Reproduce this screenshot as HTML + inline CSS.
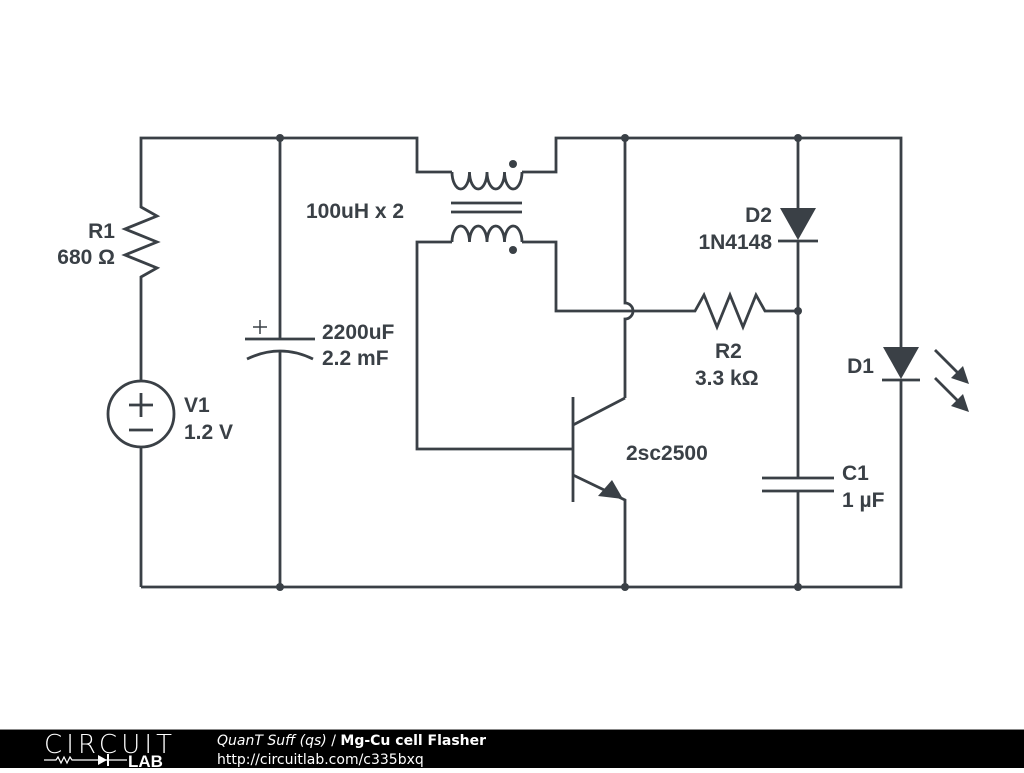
<!DOCTYPE html>
<html><head><meta charset="utf-8"><style>
body{margin:0;width:1024px;height:768px;background:#fff;overflow:hidden;font-family:"Liberation Sans","DejaVu Sans",sans-serif}
</style></head><body>
<svg width="1024" height="768" viewBox="0 0 1024 768" xmlns="http://www.w3.org/2000/svg">
<g fill="none" stroke="#3a4046" stroke-width="2.8" stroke-linejoin="miter">
<path d="M141 200 V138 H417 V172 H452"/>
<path d="M522 172 H556 V138 H901 V347"/>
<path d="M141 587 H901 V380"/>
<path d="M141 200 L141 207 L157 216 L125 229 L157 242 L125 255 L157 268 L141 277 V380"/>
<circle cx="141" cy="414" r="33"/>
<path d="M141 447 V587"/>
<path d="M129 405 H153 M141 393 V417 M129 430 H153"/>
<path d="M280 138 V339 M245 339 H315"/>
<path d="M247 359 Q280 343 313 359"/>
<path d="M280 352 V587"/>
<path d="M253 327 H267 M260 320 V334" stroke-width="1.5"/>
<path d="M452 172 a8.75 17 0 0 0 17.5 0 a8.75 17 0 0 0 17.5 0 a8.75 17 0 0 0 17.5 0 a8.75 17 0 0 0 17.5 0"/>
<path d="M452 242 a8.75 16 0 0 1 17.5 0 a8.75 16 0 0 1 17.5 0 a8.75 16 0 0 1 17.5 0 a8.75 16 0 0 1 17.5 0"/>
<path d="M451 203 H522 M451 212 H522"/>
<path d="M452 242 H417 V449 H572"/>
<path d="M522 242 H556 V311 H688"/>
<path d="M625 138 V303 A8 8 0 0 1 625 319 V398"/>
<path d="M573 397 V502"/>
<path d="M573 425 L625 398"/>
<path d="M573 475 L625 500 V587"/>
<path d="M688 311 L695 311 L704 295 L717 327 L730 295 L743 327 L756 295 L765 311 H798"/>
<path d="M798 138 V208 M798 240 V478 M762 478 H834 M762 491 H834 M798 491 V587"/>
<path d="M778 241 H818"/>
<path d="M882 380 H920"/>
<path d="M935 350 L962 377 M935 378 L962 405"/>
</g>
<g fill="#3a4046">
<circle cx="280" cy="138" r="4"/><circle cx="625" cy="138" r="4"/><circle cx="798" cy="138" r="4"/>
<circle cx="798" cy="311" r="4"/>
<circle cx="280" cy="587" r="4"/><circle cx="625" cy="587" r="4"/><circle cx="798" cy="587" r="4"/>
<circle cx="513" cy="164" r="4"/><circle cx="513" cy="250" r="4"/>
<polygon points="780,208 816,208 798,240"/>
<polygon points="883,347 919,347 901,379"/>
<polygon points="598,496 612,480 623,499"/>
<polygon points="969,384 951,378 963,366"/>
<polygon points="969,412 951,406 963,394"/>
</g>
<g fill="#3a4046" font-size="21" font-weight="bold" font-family="Liberation Sans, sans-serif">
<text x="115" y="238" text-anchor="end">R1</text>
<text x="115" y="264" text-anchor="end">680 Ω</text>
<text x="184" y="412">V1</text>
<text x="184" y="439">1.2 V</text>
<text x="322" y="339">2200uF</text>
<text x="322" y="365">2.2 mF</text>
<text x="306" y="218">100uH x 2</text>
<text x="772" y="222" text-anchor="end">D2</text>
<text x="772" y="249" text-anchor="end">1N4148</text>
<text x="715" y="358">R2</text>
<text x="695" y="385">3.3 kΩ</text>
<text x="874" y="373" text-anchor="end">D1</text>
<text x="626" y="460">2sc2500</text>
<text x="842" y="480">C1</text>
<text x="842" y="507">1 µF</text>
</g>
<rect x="0" y="729" width="1024" height="39" fill="#000"/>
<rect x="0" y="729" width="1024" height="1" fill="#888"/>
<text x="44" y="753" fill="#fff" font-size="26" font-family="DejaVu Sans, sans-serif" font-weight="200" letter-spacing="0" textLength="128">CIRCUIT</text>
<text x="128" y="767" fill="#fff" font-size="17" font-weight="bold" font-family="Liberation Sans, sans-serif">LAB</text>
<path d="M44 760 H56 l2 -3 l3 6 l3 -6 l3 6 l3 -6 l2 3 H127" stroke="#fff" stroke-width="1.2" fill="none"/>
<polygon points="98,755 98,765 107,760" fill="#fff"/><rect x="107" y="754" width="2" height="12" fill="#fff"/>
<text x="217" y="745" fill="#fff" font-size="14" font-family="DejaVu Sans, sans-serif"><tspan font-style="italic">QuanT Suff (qs)</tspan> / <tspan font-weight="bold">Mg-Cu cell Flasher</tspan></text>
<text x="217" y="764" fill="#fff" font-size="14" font-family="DejaVu Sans, sans-serif">http://circuitlab.com/c335bxq</text>
</svg>
</body></html>
